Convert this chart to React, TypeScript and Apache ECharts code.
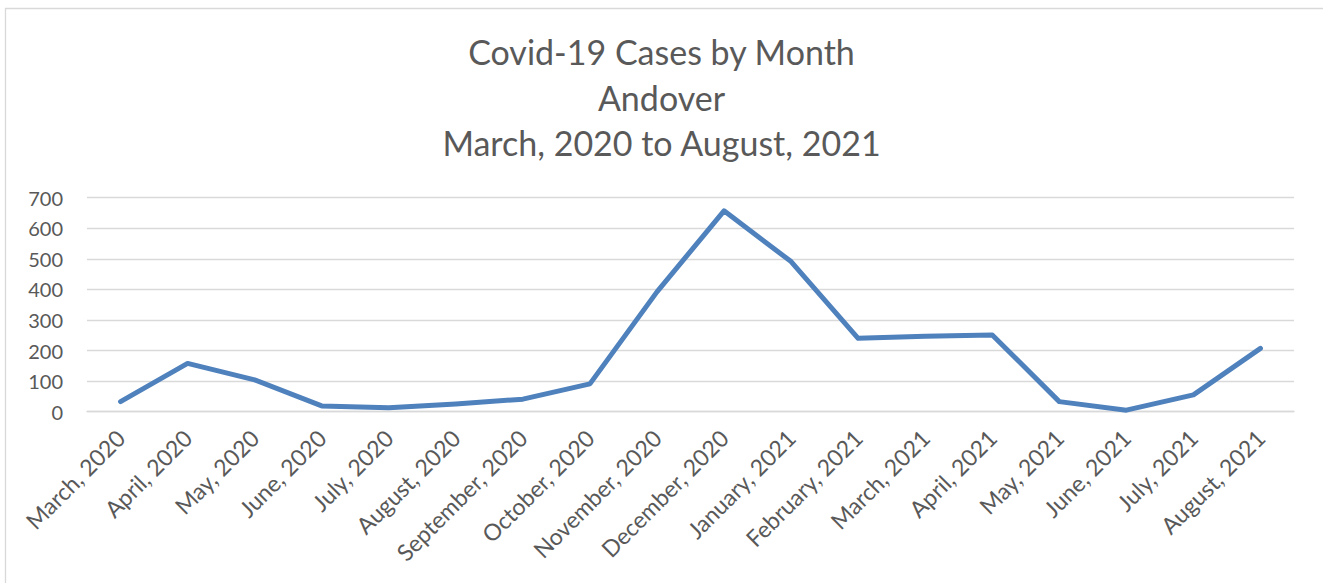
import React, { useEffect, useRef } from "react";
import * as echarts from "echarts";

const months: string[] = [
  "March, 2020", "April, 2020", "May, 2020", "June, 2020", "July, 2020",
  "August, 2020", "September, 2020", "October, 2020", "November, 2020",
  "December, 2020", "January, 2021", "February, 2021", "March, 2021",
  "April, 2021", "May, 2021", "June, 2021", "July, 2021", "August, 2021",
];
const cases: number[] = [
  33, 158, 104, 19, 13, 25, 41, 91, 392, 657, 491, 240, 247, 251, 33, 5, 55, 207,
];
const titleLines: string[] = [
  "Covid-19 Cases by Month",
  "Andover",
  "March, 2020 to August, 2021",
];

const FONT = "Lato, 'Open Sans', sans-serif";
const TEXT = "#595959";

export default function App() {
  const ref = useRef<HTMLDivElement>(null);
  useEffect(() => {
    if (!ref.current) return;
    const chart = echarts.init(ref.current, undefined, { renderer: "svg" });
    chart.setOption({
      animation: false,
      backgroundColor: "#ffffff",
      title: {
        text: titleLines.join("\n"),
        left: "center",
        top: 29,
        padding: 0,
        textStyle: {
          fontFamily: FONT,
          fontSize: 34,
          fontWeight: "normal",
          color: TEXT,
          lineHeight: 45.5,
        },
      },
      graphic: [
        {
          type: "polyline",
          shape: { points: [[5.5, 583], [5.5, 8.5], [1323, 8.5]] },
          style: { fill: "none", stroke: "#d9d9d9", lineWidth: 1.3 },
          silent: true,
        },
      ],
      grid: { left: 87, right: 29, top: 197.7, bottom: 171.3 },
      xAxis: {
        type: "category",
        data: months,
        boundaryGap: true,
        axisLine: { show: true, lineStyle: { color: "#d9d9d9", width: 1.3 } },
        axisTick: { show: false },
        axisLabel: {
          rotate: 45,
          interval: 0,
          margin: 22,
          fontFamily: FONT,
          fontSize: 23,
          color: TEXT,
        },
      },
      yAxis: {
        type: "value",
        min: 0,
        max: 700,
        interval: 100,
        axisLine: { show: false },
        axisTick: { show: false },
        splitLine: { lineStyle: { color: "#d9d9d9", width: 1.3 } },
        axisLabel: {
          margin: 24,
          fontFamily: FONT,
          fontSize: 20,
          color: TEXT,
        },
      },
      series: [
        {
          type: "line",
          data: cases,
          symbol: "none",
          lineStyle: { color: "#4F81BD", width: 5, cap: "round", join: "round" },
        },
      ],
    });
    return () => chart.dispose();
  }, []);
  return (
    <div style={{ position: "fixed", left: 0, top: 0, width: 1323, height: 583 }}>
      <div ref={ref} style={{ width: 1323, height: 583 }} />
    </div>
  );
}
